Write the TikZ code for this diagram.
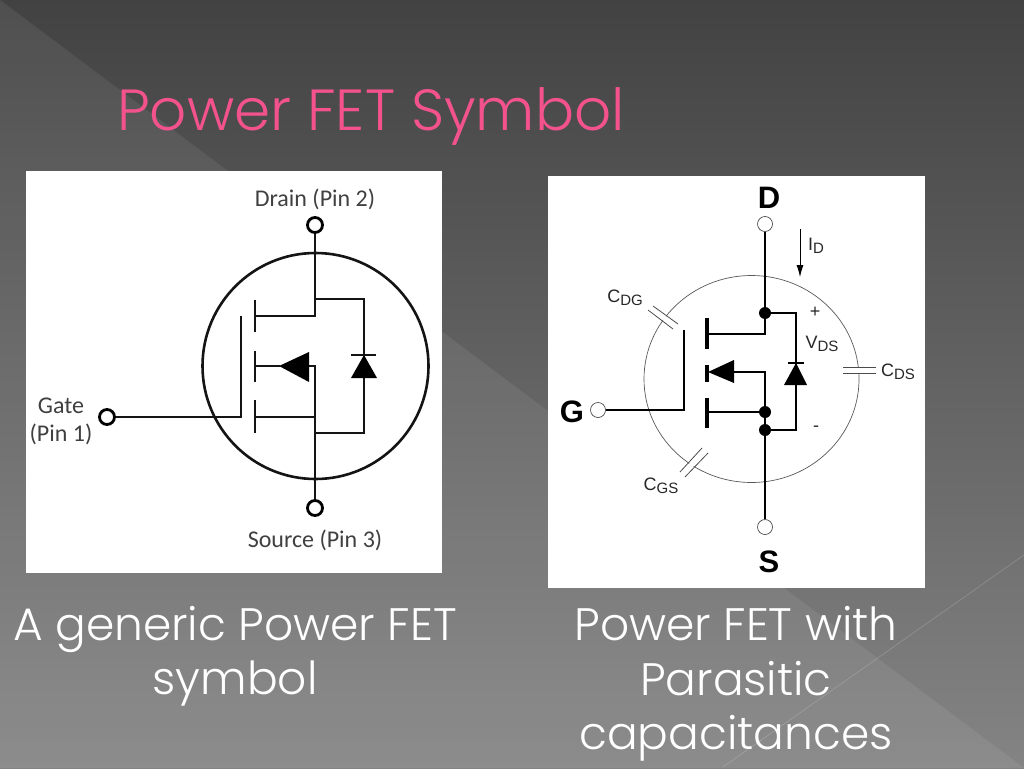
\documentclass[tikz,border=0pt]{standalone}
\usepackage{fontspec}
\setmainfont{Poppins Light}
\newfontfamily\calfont{Carlito}
\newfontfamily\arfont{Liberation Sans}
\usetikzlibrary{positioning,calc,arrows.meta,shapes.geometric}
\definecolor{titlepink}{RGB}{244,82,140}
\definecolor{slidetop}{RGB}{66,66,66}
\definecolor{slidebot}{RGB}{132,132,132}
\newcommand{\lblsub}[2]{#1\raisebox{-3pt}{\fontsize{15}{15}\selectfont #2}}
\tikzset{
  wire/.style={line width=2.8pt,black!92},
  wirer/.style={line width=2.4pt,black},
  platew/.style={line width=.8pt,black!70},
  gapw/.style={line width=5pt,white},
  barr/.style={line width=3.8pt,black},
  pin/.style={circle,draw,line width=2.8pt,fill=white,minimum size=15pt,inner sep=0pt},
  pinr/.style={circle,draw=black!70,line width=.7pt,fill=white,minimum size=15pt,inner sep=0pt},
  dot/.style={circle,fill=black,minimum size=12pt,inner sep=0pt},
  lbll/.style={font=\calfont\fontsize{24}{28}\selectfont,text=black!75,align=center},
  lblr/.style={font=\arfont\fontsize{18}{20}\selectfont,text=black!85,inner sep=0pt},
  bigl/.style={font=\arfont\bfseries\fontsize{31}{31}\selectfont},
  caption/.style={font=\fontsize{45.5}{54.5}\selectfont,text=white,align=center},
}
\begin{document}
\begin{tikzpicture}[x=1pt,y=-1pt]
\useasboundingbox (0,0) rectangle (1024,768);
% fond
\shade[top color=slidetop,bottom color=slidebot] (0,0) rectangle (1024,768);
\fill[white,opacity=.07] (0,0)--(1024,768)--(0,768)--cycle;
\draw[white,opacity=.2,line width=.6pt] (1024,555)--(723,767);
% titre
\node[font=\fontsize{58}{60}\selectfont,text=titlepink,anchor=base west,inner sep=0pt](title)at(117,130){Power FET Symbol};
% gauche
\fill[white](26,171)rectangle(442,573);
\node[circle,draw,line width=2.6pt,black!92,minimum size=226pt,inner sep=0pt](bodyl)at(315.5,366){};
\node[pin](dl)at(315,225){};
\node[pin](sl)at(315,508){};
\node[pin](gl)at(107,417){};
\node[lbll](dlab)at(315,199){Drain (Pin 2)};
\node[lbll](slab)at(315,540){Source (Pin 3)};
\node[lbll](glab)at(61,421){Gate\\(Pin 1)};
\draw[wire](gl)--(241,417)--(241,316);
\draw[wire](255,300)--(255,332);
\draw[wire](255,351)--(255,382);
\draw[wire](255,400)--(255,433);
\draw[wire](dl)--(315,316)--(255,316);
\draw[wire](255,417)--(315,417);
\draw[wire](sl)--(315,366)--(309,366);
\draw[wire](280,366)--(255,366);
\fill(279,366)--(309,352)--(309,382)--cycle;
\draw[wire](315,299)--(364,299)--(364,433)--(315,433);
\fill(364,355)--(351,378)--(377,378)--cycle;
\draw[wire](351,355)--(376,355);
% droite
\fill[white](548,176)rectangle(925,588);
\node[ellipse,draw=black!65,line width=.7pt,minimum width=215pt,minimum height=207pt,inner sep=0pt](bodyr)at(751.5,379){};
\draw[gapw](650.5,308)--(675.5,326.5);
\draw[gapw](682.5,474.5)--(705,450.5);
\draw[gapw](843,370)--(876,370);
\node[pinr](dr)at(765,224){};
\node[pinr](sr)at(765,527){};
\node[pinr](gr)at(598,410){};
\node[bigl](dname)at(769,198){D};
\node[bigl](sname)at(769,562){S};
\node[bigl](gname)at(572,412){G};
\node[dot](d1)at(765,313){};
\node[dot](d2)at(765,412){};
\node[dot](d3)at(765,430){};
\draw[wirer](dr)--(d1);
\draw[wirer](d1)--(765,334)--(707,334);
\draw[wirer](d1)--(796,313)--(796,430)--(d3);
\draw[wirer](d2)--(707,412);
\draw[wirer](d3)--(sr);
\draw[wirer](d2)--(d3);
\draw[wirer](d2)--(765,372)--(732,372);
\draw[barr](707,318)--(707,349);
\draw[barr](707,365)--(707,382);
\draw[barr](707,398)--(707,428);
\fill(708,372)--(734,360)--(734,383)--cycle;
\draw[wirer](gr)--(684,410)--(684,330);
\fill(796,363)--(784,385)--(807,385)--cycle;
\draw[wirer](788,363)--(804,363);
\draw[-{Latex[length=12pt,width=7pt]},line width=.8pt](800,229)--(800,277);
\node[lblr](idlab)at(816,246){\lblsub{I}{D}};
\node[lblr](vdslab)at(822,344){\lblsub{V}{DS}};
\node[lblr](plus)at(815,312){+};
\node[lblr](minus)at(816,429){-};
\node[lblr](cdg)at(625,298){\lblsub{C}{DG}};
\node[lblr](cgs)at(661,486){\lblsub{C}{GS}};
\node[lblr](cds)at(898,372){\lblsub{C}{DS}};
\draw[platew](648,310)--(673,329);
\draw[platew](653,306)--(678,324);
\draw[platew](680,472)--(702,448);
\draw[platew](685,477)--(708,453);
\draw[platew](843,367)--(876,367);
\draw[platew](843,373)--(876,373);
% legendes
\node[caption](capl)at(235,656){A generic Power FET\\symbol};
\node[caption](capr)at(736,684){Power FET with\\Parasitic\\capacitances};
\end{tikzpicture}
\end{document}
